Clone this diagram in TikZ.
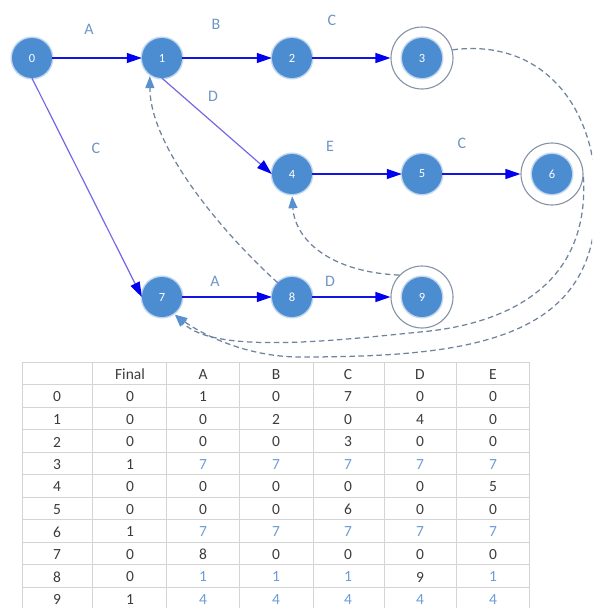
\documentclass[tikz,border=0pt]{standalone}
\usepackage{fontspec}
\setmainfont{Carlito}
\usetikzlibrary{arrows.meta}
\definecolor{nodeblue}{HTML}{4C8CD0}
\definecolor{edgeblue}{HTML}{1414E0}
\definecolor{diagblue}{HTML}{7468E6}
\definecolor{tipblue}{HTML}{0000F0}
\definecolor{backblue}{HTML}{6F83A0}
\definecolor{backtip}{HTML}{5A8FD0}
\definecolor{ringgray}{HTML}{8592A6}
\definecolor{lblblue}{HTML}{6F95C4}
\definecolor{celltext}{HTML}{3C3C3C}
\definecolor{cellblue}{HTML}{6E9CD8}
\definecolor{gridgray}{HTML}{D4D4D4}
\begin{document}
\begin{tikzpicture}[x=1pt,y=-1pt,
  stnode/.style={circle, fill=nodeblue, minimum size=40pt, inner sep=0pt,
    text=white, font=\fontsize{12.5}{12.5}\selectfont,
    preaction={draw=nodeblue!35, line width=3pt}},
  acceptring/.style={circle, draw=ringgray, line width=1.1pt, minimum size=62pt, inner sep=0pt},
  trans/.style={draw=edgeblue, line width=1.2pt, -{Triangle[length=15pt,width=10pt,color=tipblue]}},
  slant/.style={trans, draw=diagblue},
  backarc/.style={draw=backblue, line width=1.25pt, dash pattern=on 5.5pt off 3.5pt,
    -{Triangle[length=12pt,width=9pt,color=backtip]}, shorten >=2pt},
  lbl/.style={text=lblblue, font=\fontsize{16}{16}\selectfont},
  cell/.style={text=celltext, font=\fontsize{15.5}{16}\selectfont, inner sep=0pt},
  cellb/.style={cell, text=cellblue},
  tablegrid/.style={draw=gridgray, line width=0.8pt}]
\useasboundingbox (0,0) rectangle (592,608);
\clip (0,0) rectangle (592,608);

% accepting rings
\node[acceptring] (r3) at (422,58) {};
\node[acceptring] (r6) at (552,174) {};
\node[acceptring] (r9) at (422,297) {};

% states
\node[stnode] (n0) at (32,58) {0};
\node[stnode] (n1) at (162,58) {1};
\node[stnode] (n2) at (292,58) {2};
\node[stnode] (n3) at (422,58) {3};
\node[stnode] (n4) at (292,174) {4};
\node[stnode] (n5) at (422,174) {5};
\node[stnode] (n6) at (552,174) {6};
\node[stnode] (n7) at (162,297) {7};
\node[stnode] (n8) at (292,297) {8};
\node[stnode] (n9) at (422,297) {9};

% transitions
\draw[trans] (n0) -- (n1);
\draw[trans] (n1) -- (n2);
\draw[trans] (n2) -- (r3);
\draw[slant] (n1.south) -- (n4.west);
\draw[slant] (n0.south) -- (n7.west);
\draw[trans] (n4) -- (n5);
\draw[trans] (n5) -- (r6);
\draw[trans] (n7) -- (n8);
\draw[trans] (n8) -- (r9);

% transition labels
\node[lbl] (l01) at (89,29) {A};
\node[lbl] (l12) at (216,24) {B};
\node[lbl] (l23) at (332,20) {C};
\node[lbl] (l14) at (213,96) {D};
\node[lbl] (l07) at (96,148) {C};
\node[lbl] (l45) at (330,146) {E};
\node[lbl] (l56) at (462,143) {C};
\node[lbl] (l78) at (215,281) {A};
\node[lbl] (l89) at (330,281) {D};

% failure links
\draw[backarc] (r3.15) .. controls (545,38) and (599,110) .. (596,205)
  .. controls (594,340) and (470,357) .. (300,357)
  .. controls (245,357) and (200,333) .. (n7.-55);
\draw[backarc] (r6.-5) .. controls (590,290) and (500,325) .. (420,332)
  .. controls (340,340) and (215,355) .. (n7.-55);
\draw[backarc] (r9.136) .. controls (330,272) and (295,240) .. (n4.south);
\draw[backarc] (n8.135) .. controls (230,240) and (150,150) .. (n1.233);

% transition table
\foreach \x in {22,92,166,239,313,384,456,529}
  \draw[tablegrid] (\x,362) -- (\x,612);
\foreach \k in {0,...,11}
  \draw[tablegrid] (22,{362+22.5*\k}) -- (529,{362+22.5*\k});
\foreach \line [count=\i from 0] in {
  {/cell,Final/cell,A/cell,B/cell,C/cell,D/cell,E/cell},
  {0/cell,0/cell,1/cell,0/cell,7/cell,0/cell,0/cell},
  {1/cell,0/cell,0/cell,2/cell,0/cell,4/cell,0/cell},
  {2/cell,0/cell,0/cell,0/cell,3/cell,0/cell,0/cell},
  {3/cell,1/cell,7/cellb,7/cellb,7/cellb,7/cellb,7/cellb},
  {4/cell,0/cell,0/cell,0/cell,0/cell,0/cell,5/cell},
  {5/cell,0/cell,0/cell,0/cell,6/cell,0/cell,0/cell},
  {6/cell,1/cell,7/cellb,7/cellb,7/cellb,7/cellb,7/cellb},
  {7/cell,0/cell,8/cell,0/cell,0/cell,0/cell,0/cell},
  {8/cell,0/cell,1/cellb,1/cellb,1/cellb,9/cell,1/cellb},
  {9/cell,1/cell,4/cellb,4/cellb,4/cellb,4/cellb,4/cellb}}
{
  \foreach \v/\s [count=\j from 0] in \line {
    \pgfmathparse{{57,130,203,276,348,420,493}[\j]}
    \let\cx\pgfmathresult
    \node[\s] (t-\i-\j) at ({\cx},{374.5+22.5*\i}) {\v};
  }
}
\end{tikzpicture}
\end{document}
